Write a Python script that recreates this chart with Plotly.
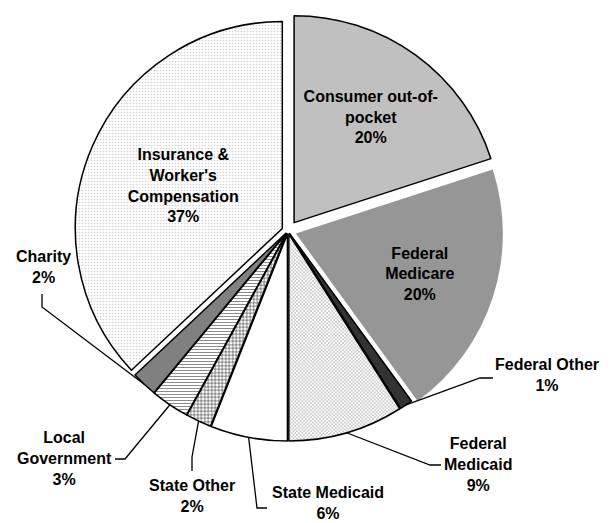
import math
import plotly.graph_objects as go

# ---- data ----
categories = ["Consumer out-of-pocket", "Federal Medicare", "Federal Other", "Federal Medicaid",
              "State Medicaid", "State Other", "Local Government", "Charity",
              "Insurance & Worker's Compensation"]
values = [20, 20, 1, 9, 6, 2, 3, 2, 37]
label_lines = ["Consumer out-of-<br>pocket", "Federal<br>Medicare", "Federal Other", "Federal<br>Medicaid",
               "State Medicaid", "State Other", "Local<br>Government", "Charity",
               "Insurance &<br>Worker's<br>Compensation"]

# ---- style ----
W, H = 611, 523
FS = 16
colors = ["#C0C0C0", "#969696", "#333333", "#a0a0a0", "#FFFFFF", "#000000", "#8c8c8c", "#808080", "#d0d0d0"]
pattern_shapes = ["", "", "", "x", "", "+", "-", "", "."]
pattern_sizes = [4, 4, 4, 2.5, 4, 3.5, 3, 4, 3]
pattern_solid = [0.3, 0.3, 0.3, 0.35, 0.3, 0.25, 0.35, 0.3, 0.22]
line_widths = [1.5, 0, 1.5, 1.5, 1.5, 1.5, 1.5, 1.5, 1.5]
pulls = [0.05, 0.04, 0.015, 0.015, 0.015, 0.015, 0.015, 0.015, 0.03]
inside = [True, True, False, False, False, False, False, False, True]

cx, cy, R = 288, 231, 207          # pie centre / radius in pixels
half = R * (1 + max(pulls))
dom_x = [(cx - half) / W, (cx + half) / W]
dom_y = [1 - (cy + half) / H, 1 - (cy - half) / H]

# outside label positions (pixel centres) and leader elbows (pixel)
outside_layout = {
    "Federal Other": dict(pos=(547, 375), elbow=[(480, 378), (493, 378)]),
    "Federal Medicaid": dict(pos=(478, 464), elbow=[(430, 465), (441, 465)]),
    "State Medicaid": dict(pos=(328, 503), elbow=[(257, 508), (267, 508)]),
    "State Other": dict(pos=(192, 496), elbow=[(192, 457), (192, 471)]),
    "Local Government": dict(pos=(64, 458), elbow=[(125, 459), (115, 459)]),
    "Charity": dict(pos=(43, 267), elbow=[(42, 307), (42, 294)]),
}

def px(x, y):
    return x / W, 1 - y / H

texts = [f"{l}<br>{v}%" for l, v in zip(label_lines, values)]

fig = go.Figure(go.Pie(
    labels=categories, values=values, sort=False, direction="clockwise", rotation=0,
    pull=pulls, domain=dict(x=dom_x, y=dom_y),
    text=texts, texttemplate="%{text}",
    textposition=["inside" if i else "none" for i in inside],
    insidetextorientation="horizontal",
    insidetextfont=dict(color="black", size=FS, family="Liberation Sans, Arial", weight="bold"),
    marker=dict(colors=colors, line=dict(color="black", width=line_widths),
                pattern=dict(shape=pattern_shapes, size=pattern_sizes, solidity=pattern_solid,
                             fillmode="replace")),
    showlegend=False, hoverinfo="label+percent",
))

annotations, shapes = [], []
total = sum(values)
cum = 0
for cat, v, lbl, p in zip(categories, values, label_lines, pulls):
    mid = (cum + v / 2) / total * 2 * math.pi
    cum += v
    if cat not in outside_layout:
        continue
    cfg = outside_layout[cat]
    rr = R * (1 + p)
    ax, ay = cx + rr * math.sin(mid), cy - rr * math.cos(mid)
    pts = [(ax, ay)] + cfg["elbow"]
    path = "M " + " L ".join(f"{px(x, y)[0]:.5f},{px(x, y)[1]:.5f}" for x, y in pts)
    shapes.append(dict(type="path", path=path, xref="paper", yref="paper",
                       line=dict(color="black", width=1.3)))
    tx, ty = px(*cfg["pos"])
    annotations.append(dict(x=tx, y=ty, xref="paper", yref="paper", text=f"{lbl}<br>{v}%",
                            showarrow=False, xanchor="center", yanchor="middle", align="center",
                            font=dict(size=FS, color="black", family="Liberation Sans, Arial", weight="bold")))

fig.update_layout(width=W, height=H, margin=dict(l=0, r=0, t=0, b=0),
                  paper_bgcolor="white", plot_bgcolor="white",
                  annotations=annotations, shapes=shapes,
                  font=dict(family="Liberation Sans, Arial", size=FS, color="black"))
fig.write_html("out.html", config={"displayModeBar": False},
               post_script="document.body.style.margin='0px';document.body.style.overflow='hidden';")
